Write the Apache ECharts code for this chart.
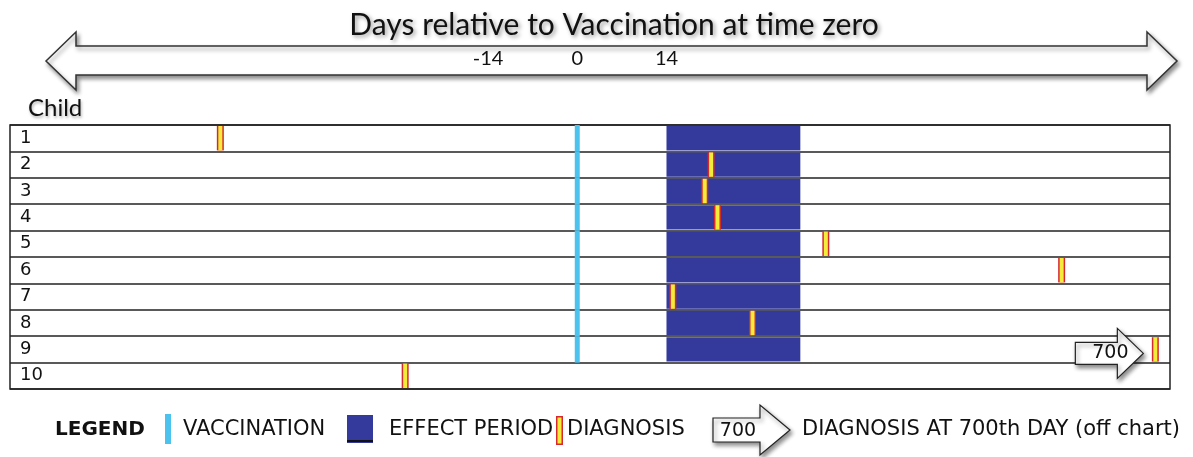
<!DOCTYPE html>
<html>
<head>
<meta charset="utf-8">
<script src="https://cdn.jsdelivr.net/npm/echarts@6/dist/echarts.min.js"></script>
<style>
  html, body { margin: 0; padding: 0; background: #fff; }
  #chart { width: 1193px; height: 457px; }
</style>
</head>
<body>
<div id="chart"></div>
<script>
// chart data
const children = ['1', '2', '3', '4', '5', '6', '7', '8', '9', '10'];
const tickDays = [-14, 0, 14];
const vaccinatedChildren = ['1', '2', '3', '4', '5', '6', '7', '8', '9'];
const vaccinationDay = 0;
const effectStart = 14;
const effectEnd = 35;
const diagnosisDays = [-56, 21, 20, 22, 39, 76, 15, 27.5, 700, -27];

const X_MIN = -89;
const X_MAX = 93;
const BLUE = '#4cc3ee';
const NAVY = '#343a9c';
const RED = '#d42a2f';
const YELLOW = '#f4ec3a';
const SHADOW = { shadowBlur: 4, shadowOffsetX: 2, shadowOffsetY: 3, shadowColor: 'rgba(0,0,0,0.45)' };

function blockArrow(x0, xHead, xTip, cy, body, head) {
  return [[x0, cy - body], [xHead, cy - body], [xHead, cy - head], [xTip, cy],
          [xHead, cy + head], [xHead, cy + body], [x0, cy + body]];
}

function renderVaccination(params, api) {
  const p = api.coord([api.value(0), api.value(1)]);
  const h = api.size([0, 1])[1];
  return { type: 'rect', shape: { x: p[0] - 2.5, y: p[1] - h / 2, width: 5, height: h }, style: { fill: BLUE } };
}

function renderEffect(params, api) {
  const a = api.coord([api.value(0), api.value(2)]);
  const b = api.coord([api.value(1), api.value(2)]);
  const h = api.size([0, 1])[1];
  return { type: 'rect', shape: { x: a[0], y: a[1] - h / 2 + 1, width: b[0] - a[0], height: h - 2 }, style: { fill: NAVY } };
}

function renderDiagnosis(params, api) {
  const day = api.value(0);
  const off = day > X_MAX;
  const p = api.coord([off ? X_MAX - 2.3 : day, api.value(1)]);
  const h = api.size([0, 1])[1];
  const top = p[1] - h / 2 + 1;
  const els = [
    { type: 'rect', shape: { x: p[0] - 3.5, y: top, width: 7, height: h - 2 }, style: { fill: RED } },
    { type: 'rect', shape: { x: p[0] - 2, y: top, width: 4, height: h - 2 }, style: { fill: YELLOW } }
  ];
  if (off) {
    const cy = p[1] + 4;
    els.push({
      type: 'polygon',
      shape: { points: blockArrow(p[0] - 80, p[0] - 38, p[0] - 12, cy, 11, 25) },
      style: Object.assign({ fill: '#fff', stroke: '#222', lineWidth: 1.2 }, SHADOW)
    });
    els.push({
      type: 'text', x: p[0] - 45, y: cy,
      style: { text: String(day), fill: '#111', font: '19px "DejaVu Sans"', align: 'center', verticalAlign: 'middle' }
    });
  }
  return { type: 'group', children: els };
}

const chart = echarts.init(document.getElementById('chart'), null, { renderer: 'canvas' });

const legendFont = '21px "DejaVu Sans"';
const legendY = 430;

const option = {
  animation: false,
  backgroundColor: '#fff',
  grid: { left: 10, right: 23, top: 125, height: 264, show: true, borderColor: '#222', borderWidth: 1.5, backgroundColor: 'transparent' },
  xAxis: {
    type: 'value', min: X_MIN, max: X_MAX, position: 'top', z: 100,
    axisLine: { show: false }, axisTick: { show: false }, splitLine: { show: false },
    axisLabel: {
      customValues: tickDays, margin: 56, color: '#111',
      fontFamily: 'Lato', fontSize: 20
    }
  },
  yAxis: {
    type: 'category', data: children, inverse: true,
    axisLine: { show: false }, axisTick: { show: false },
    splitLine: { show: true, lineStyle: { color: '#222', width: 1.5 } },
    axisLabel: { inside: true, margin: 10, color: '#111', fontFamily: 'DejaVu Sans', fontSize: 18 }
  },
  graphic: [
    {
      type: 'polygon', z: 1,
      shape: { points: [[46, 61], [76, 32], [76, 46], [1147, 46], [1147, 32], [1177, 61], [1147, 90], [1147, 75], [76, 75], [76, 90]] },
      style: Object.assign({ fill: '#fff', stroke: '#333', lineWidth: 1.5 }, SHADOW)
    },
    {
      type: 'text', x: 614, y: 25, z: 2,
      style: { text: 'Days relative to Vaccination at time zero', font: '30px Lato', fill: '#111', align: 'center', verticalAlign: 'middle',
               textShadowBlur: 4, textShadowOffsetX: 2, textShadowOffsetY: 2, textShadowColor: 'rgba(0,0,0,0.4)' }
    },
    {
      type: 'text', x: 28, y: 108,
      style: { text: 'Child', font: '24px Lato', fill: '#111', verticalAlign: 'middle',
               textShadowBlur: 3, textShadowOffsetX: 1, textShadowOffsetY: 2, textShadowColor: 'rgba(0,0,0,0.3)' }
    },
    // legend
    { type: 'text', x: 55, y: legendY, style: { text: 'LEGEND', font: 'bold 20px "DejaVu Sans"', fill: '#111', verticalAlign: 'middle' } },
    { type: 'rect', shape: { x: 165, y: 414, width: 6, height: 30 }, style: { fill: BLUE } },
    { type: 'text', x: 183, y: legendY, style: { text: 'VACCINATION', font: legendFont, fill: '#111', verticalAlign: 'middle' } },
    { type: 'rect', shape: { x: 347, y: 415, width: 26, height: 28 }, style: { fill: NAVY } },
    { type: 'rect', shape: { x: 347, y: 440, width: 26, height: 2 }, style: { fill: '#111' } },
    { type: 'text', x: 389, y: legendY, style: { text: 'EFFECT PERIOD', font: legendFont, fill: '#111', verticalAlign: 'middle' } },
    { type: 'rect', shape: { x: 556, y: 416, width: 7, height: 29 }, style: { fill: RED } },
    { type: 'rect', shape: { x: 557.5, y: 417.5, width: 4, height: 26 }, style: { fill: YELLOW } },
    { type: 'text', x: 567, y: legendY, style: { text: 'DIAGNOSIS', font: legendFont, fill: '#111', verticalAlign: 'middle' } },
    {
      type: 'polygon',
      shape: { points: blockArrow(713, 760, 790, 430, 12, 25) },
      style: Object.assign({ fill: '#fff', stroke: '#222', lineWidth: 1.2 }, SHADOW)
    },
    { type: 'text', x: 738, y: 431, style: { text: '700', font: '19px "DejaVu Sans"', fill: '#111', align: 'center', verticalAlign: 'middle' } },
    { type: 'text', x: 802, y: legendY, style: { text: 'DIAGNOSIS AT 700th DAY (off chart)', font: legendFont, fill: '#111', verticalAlign: 'middle' } }
  ],
  series: [
    {
      type: 'custom', name: 'Effect period', renderItem: renderEffect, z: 2,
      data: vaccinatedChildren.map(c => [effectStart, effectEnd, children.indexOf(c)])
    },
    {
      type: 'custom', name: 'Vaccination', renderItem: renderVaccination, z: 3,
      data: vaccinatedChildren.map(c => [vaccinationDay, children.indexOf(c)])
    },
    {
      type: 'custom', name: 'Diagnosis', renderItem: renderDiagnosis, z: 4,
      data: diagnosisDays.map((d, i) => [d, i])
    }
  ]
};

chart.setOption(option);
</script>
</body>
</html>
